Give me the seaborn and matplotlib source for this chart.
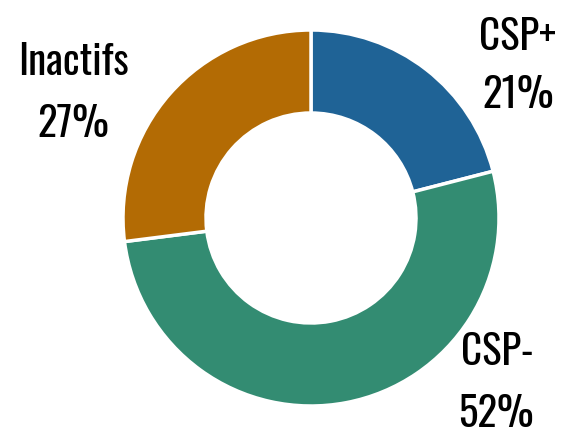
"""
Donut chart: repartition CSP+ / CSP- / Inactifs
"""
import seaborn as sns
import matplotlib.pyplot as plt

# Reset background style
sns.set_theme(style='white')
plt.rcParams['font.family'] = ['Oswald', 'Roboto', 'DejaVu Sans']

# Data
categories = ['CSP+', 'CSP-', 'Inactifs']
shares = [21, 52, 27]
colors = ['#1f6396', '#338c72', '#b36b04']

# label anchors (pixels from top-left, x centre / baseline): name line, value line
name_pos = [(518, 50), (497, 365), (74, 75)]
value_pos = [(518, 108), (496, 427), (73, 137)]

H = 434
fig = plt.figure(figsize=(5.61, 4.34), dpi=100)
ax = fig.add_axes([0, 0, 1, 1])

ax.pie(shares, colors=colors, startangle=90, counterclock=False,
       center=(311, H - 218), radius=188,
       wedgeprops=dict(width=83, edgecolor='white', linewidth=2.5))

for cat, val, (nx, ny), (vx, vy) in zip(categories, shares, name_pos, value_pos):
    ax.text(nx, H - ny, cat, ha='center', va='baseline', fontsize=29.5,
            fontweight='light', color='black')
    ax.text(vx, H - vy, f"{val}%", ha='center', va='baseline', fontsize=29.5,
            fontweight='light', color='black')

ax.set_xlim(0, 561)
ax.set_ylim(0, H)
ax.set_aspect('equal')
ax.axis('off')

plt.savefig('out.png', dpi=100)
